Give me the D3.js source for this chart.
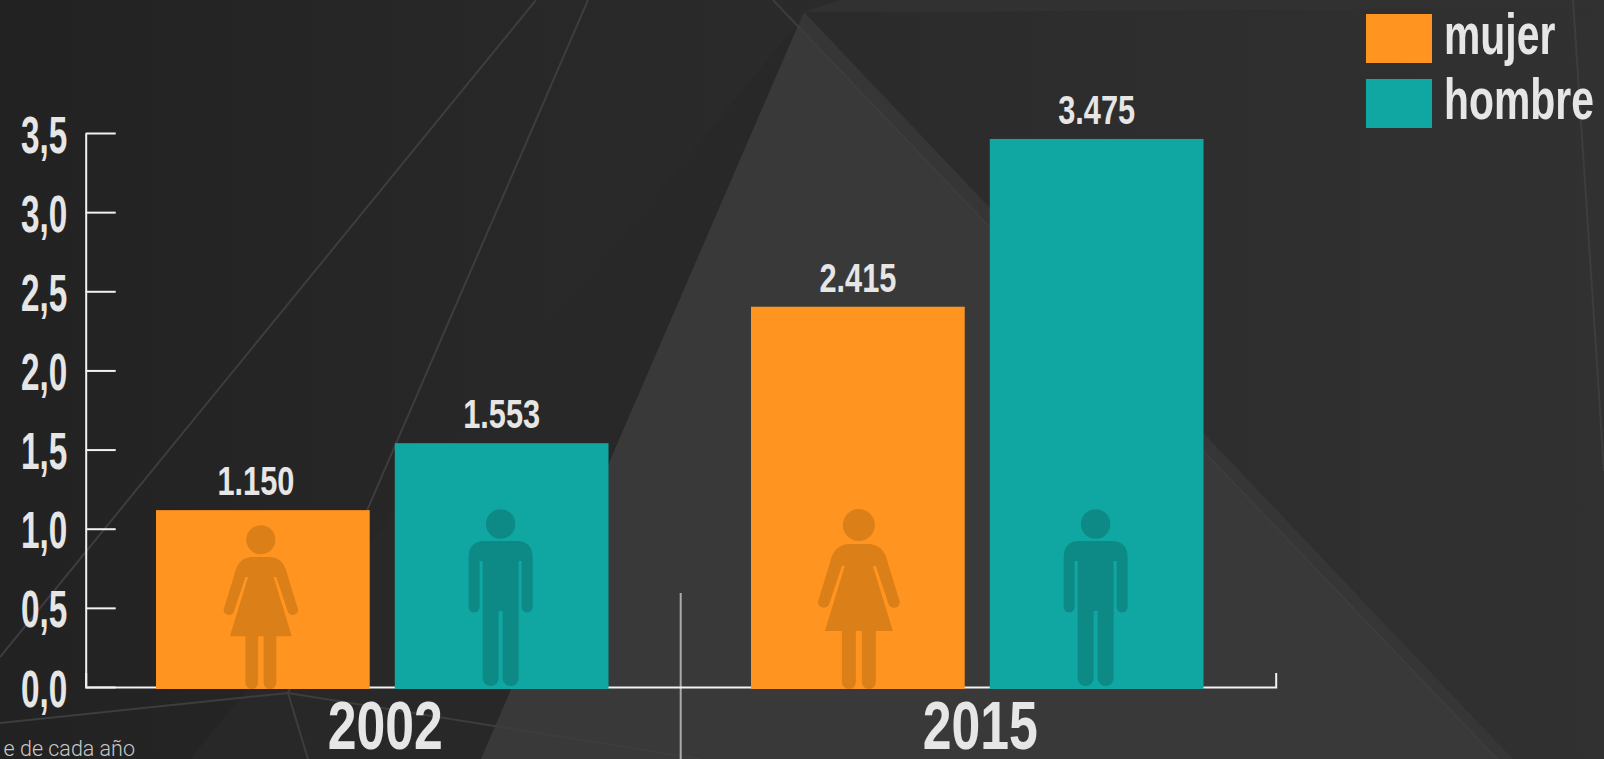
<!DOCTYPE html>
<html>
<head>
<meta charset="utf-8">
<script src="https://cdn.jsdelivr.net/npm/d3@7"></script>
<style>
  html, body { margin: 0; padding: 0; background: #262626; overflow: hidden; }
  text { font-family: "Liberation Sans Narrow", "Liberation Sans", sans-serif; font-weight: 700; fill: #e6e6e6; }
</style>
</head>
<body>
<div id="chart"></div>
<script>
// Data
const years = ["2002", "2015"];
const series = ["mujer", "hombre"];
// bar heights as drawn (the 2002 orange bar sits a little under its 1.150 label)
const mujer = [1.13, 2.415];
const hombre = [1.553, 3.475];
const mujerLabels = ["1.150", "2.415"];
const hombreLabels = ["1.553", "3.475"];
const yTicks = [0, 0.5, 1, 1.5, 2, 2.5, 3, 3.5];
const footnote = "e de cada año";

const colors = { mujer: "#ff9420", hombre: "#10a7a3" };
const iconColors = { mujer: "#db7f18", hombre: "#0d8a85" };

// Decoration of the background
const shapes = [
    { points: [[804, 12], [840, 0], [1604, 0], [1604, 8], [950, 12]], fill: "#313131" },
    { points: [[798, 23], [481, 759], [190, 759]], fill: "#282828" },
    { points: [[804, 12], [1513, 759], [481, 759]], fill: "#363636" },
    { points: [[798, 26], [1497, 759], [481, 759]], fill: "#393939" }
];
const bgLines = [
    [[536, 0], [0, 657]],
    [[588, 0], [288, 693]],
    [[288, 693], [0, 723]],
    [[288, 693], [700, 759]],
    [[288, 693], [308, 759]],
    [[773, 0], [1497, 759]],
    [[1573, 0], [1604, 471]]
];

const width = 1604;
const height = 759;

const svg = d3.select("#chart").append("svg")
    .attr("width", width)
    .attr("height", height)
    .style("display", "block");

// Background
const grad = svg.append("defs").append("linearGradient").attr("id", "bg");
grad.append("stop").attr("offset", 0).attr("stop-color", "#222222");
grad.append("stop").attr("offset", 0.45).attr("stop-color", "#2a2a2a");
grad.append("stop").attr("offset", 1).attr("stop-color", "#313131");

svg.append("rect").attr("width", width).attr("height", height).attr("fill", "url(#bg)");

svg.append("g").selectAll("polygon")
    .data(shapes)
    .join("polygon")
    .attr("points", d => d.points.join(" "))
    .attr("fill", d => d.fill);

svg.append("g").selectAll("path")
    .data(bgLines)
    .join("path")
    .attr("d", d3.line())
    .attr("fill", "none")
    .attr("stroke", "#3d3d3d")
    .attr("stroke-width", 2);

// Scales
const x0 = d3.scaleBand().domain(years).range([85.7, 1275.7]);
const x1 = d3.scaleBand().domain(series).range([70.3, 522.8]).paddingInner(0.105);
const y = d3.scaleLinear().domain([0, 3.5]).range([689, 135]);
const axisShift = -2;

const rows = years.flatMap((year, i) => [
    { year, key: "mujer", value: mujer[i], label: mujerLabels[i] },
    { year, key: "hombre", value: hombre[i], label: hombreLabels[i] }
]);
const barX = d => x0(d.year) + x1(d.key);

// Separator between the two years
svg.append("line")
    .attr("x1", x0("2015")).attr("x2", x0("2015"))
    .attr("y1", 593).attr("y2", height)
    .attr("stroke", "#ababab")
    .attr("stroke-width", 2);

// Axes
const fmt = d3.formatLocale({ decimal: ",", thousands: ".", grouping: [3], currency: ["", ""] }).format(".1f");

const yAxis = svg.append("g")
    .attr("transform", `translate(85.7,${axisShift})`)
    .call(d3.axisLeft(y).tickValues(yTicks).tickFormat(fmt).tickSize(-30).tickSizeOuter(0));
yAxis.selectAll("path, line").attr("stroke", "#f2f2f2").attr("stroke-width", 2);
yAxis.selectAll("text")
    .attr("x", null).attr("dy", null)
    .attr("transform", "translate(-18.5,19) scale(0.64,1)")
    .attr("font-size", 52);

const xAxis = svg.append("g")
    .attr("transform", `translate(0,${y(0) + axisShift})`)
    .call(d3.axisBottom(x0).tickSizeInner(0).tickSizeOuter(-14));
xAxis.select("path").attr("stroke", "#f2f2f2").attr("stroke-width", 2);
xAxis.selectAll("text")
    .attr("y", null).attr("dy", null)
    .attr("transform", "translate(2,62) scale(0.75,1)")
    .attr("font-size", 69);

// Bars
svg.append("g").selectAll("rect")
    .data(rows)
    .join("rect")
    .attr("x", barX)
    .attr("y", d => y(d.value))
    .attr("width", x1.bandwidth())
    .attr("height", d => y(0) - y(d.value))
    .attr("fill", d => colors[d.key]);

// Value labels (the 1.150 label sits left of its bar centre in the original)
svg.append("g").selectAll("text")
    .data(rows)
    .join("text")
    .attr("text-anchor", "middle")
    .attr("font-size", 41)
    .attr("transform", d => {
        const nudge = d.label === "1.150" ? -7 : 0;
        return `translate(${barX(d) + x1.bandwidth() / 2 + nudge},${y(d.value) - 15}) scale(0.75,1)`;
    })
    .text(d => d.label);

// Figures standing in the bars, origin at the feet
const womanBody = "M-9,-145 L9,-145 Q25,-145 29,-126 L41,-87 A6,6 0 0 1 30,-84 L17,-123 L14,-123 L34,-58 L17,-58 L17,-7 A7,7 0 0 1 3,-7 L3,-58 L-3,-58 L-3,-7 A7,7 0 0 1 -17,-7 L-17,-58 L-34,-58 L-14,-123 L-17,-123 L-30,-84 A6,6 0 0 1 -41,-87 L-29,-126 Q-25,-145 -9,-145 Z";
const manBody = "M-16,-145 L16,-145 Q32,-145 32,-128 L32,-79 A5.5,5.5 0 0 1 21,-79 L21,-125 L18,-125 L18,-8 A8,8 0 0 1 2,-8 L2,-75 L-2,-75 L-2,-8 A8,8 0 0 1 -18,-8 L-18,-125 L-21,-125 L-21,-79 A5.5,5.5 0 0 1 -32,-79 L-32,-128 Q-32,-145 -16,-145 Z";

const icons = svg.append("g").selectAll("g")
    .data(rows)
    .join("g")
    .attr("fill", d => iconColors[d.key])
    .attr("transform", d => {
        const cx = barX(d) + x1.bandwidth() / 2;
        if (d.key === "hombre") return `translate(${cx - 1},${y(0) - 3})`;
        const s = d.year === "2002" ? 0.91 : 1;
        return `translate(${cx - (d.year === "2002" ? 2 : -1)},${y(0)}) scale(${s})`;
    });
icons.append("path").attr("d", d => d.key === "mujer" ? womanBody : manBody);
icons.append("circle")
    .attr("cy", d => d.key === "mujer" ? -164 : -162)
    .attr("r", d => d.key === "mujer" ? 16 : 14.7);

// Legend
const legend = svg.append("g").selectAll("g")
    .data(series)
    .join("g")
    .attr("transform", (d, i) => `translate(1366,${14 + i * 65})`);
legend.append("rect")
    .attr("width", 66)
    .attr("height", 49)
    .attr("fill", d => colors[d]);
legend.append("text")
    .attr("transform", "translate(78,39.5) scale(0.705,1)")
    .attr("font-size", 58)
    .text(d => d);

// Footnote, cut by the left edge
svg.append("text")
    .attr("x", 135)
    .attr("y", 756)
    .attr("text-anchor", "end")
    .attr("font-size", 21.5)
    .style("font-family", "Roboto")
    .style("font-weight", 300)
    .style("fill", "#c9c9c9")
    .text(footnote);
</script>
</body>
</html>
